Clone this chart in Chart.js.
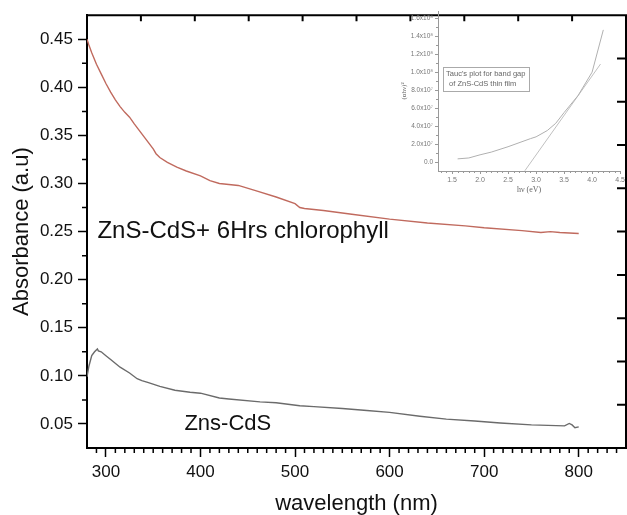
<!DOCTYPE html>
<html>
<head>
<meta charset="utf-8">
<script src="https://cdn.jsdelivr.net/npm/chart.js@4.4.1/dist/chart.umd.min.js"></script>
<style>
  body { margin: 0; background: #fff; }
  #wrap { position: relative; width: 627px; height: 515px; }
  #main { position: absolute; left: 0; top: 0; }
  #inset { position: absolute; left: 400px; top: 5px; }
</style>
</head>
<body>
<div id="wrap">
  <canvas id="main" width="627" height="515"></canvas>
  <canvas id="inset" width="227" height="195"></canvas>
</div>
<script>
// ================= MAIN DATA =================
const chloroWl = [280, 282, 285, 290, 295, 300, 305, 310, 315, 320, 325, 330, 340, 350, 353, 357, 365, 375, 385, 400,
                  410, 420, 430, 440, 460, 480, 500, 505, 510, 530, 560, 600, 640, 680, 700, 740, 760, 770, 780, 800];
const chloroAbs = [0.450, 0.444, 0.436, 0.424, 0.414, 0.404, 0.395, 0.387, 0.380, 0.374, 0.369, 0.362, 0.349, 0.336, 0.331, 0.327, 0.322, 0.317, 0.313, 0.308,
                   0.303, 0.300, 0.299, 0.298, 0.292, 0.286, 0.279, 0.275, 0.274, 0.272, 0.268, 0.263, 0.259, 0.256, 0.254, 0.251, 0.249, 0.250, 0.249, 0.248];

const plainWl = [280, 282, 285, 288, 291, 292, 295, 300, 305, 315, 325, 333, 338, 345, 357, 373, 389, 400, 420, 430,
                 463, 480, 505, 520, 550, 576, 600, 632, 660, 690, 717, 750, 785, 790, 793, 796, 800];
const plainAbs = [0.099, 0.110, 0.121, 0.125, 0.128, 0.126, 0.125, 0.121, 0.117, 0.109, 0.103, 0.097, 0.095, 0.093, 0.089, 0.085, 0.083, 0.082, 0.077, 0.076,
                  0.073, 0.072, 0.069, 0.068, 0.066, 0.064, 0.062, 0.058, 0.055, 0.053, 0.051, 0.049, 0.048, 0.0505, 0.049, 0.046, 0.047];

const seriesLabels = ["ZnS-CdS+ 6Hrs chlorophyll", "Zns-CdS"];
const labelAnchors = [[291, 0.25], [383, 0.05]]; // (wavelength, absorbance) where each text starts
const labelSizes = [24, 22];
const xTickValues = [300, 400, 500, 600, 700, 800];
const yTickValues = [0.05, 0.10, 0.15, 0.20, 0.25, 0.30, 0.35, 0.40, 0.45];

// ================= INSET DATA (Tauc plot) =================
const taucEnergy = [1.6, 1.8, 2.0, 2.2, 2.5, 2.9, 3.0, 3.2, 3.35, 3.5, 3.75, 4.0, 4.2];
const taucValue = [3.5e6, 4.5e6, 8e6, 1.1e7, 1.7e7, 2.6e7, 2.8e7, 3.5e7, 4.3e7, 5.5e7, 7.4e7, 1.0e8, 1.47e8];
const fitEnergy = [2.8, 4.15];
const fitValue = [-0.97e7, 1.09e8];
const insetXTicks = [1.5, 2.0, 2.5, 3.0, 3.5, 4.0, 4.5];
const insetYTicks = [0, 2e7, 4e7, 6e7, 8e7, 1.0e8, 1.2e8, 1.4e8, 1.6e8];
const insetYTickLabels = ["0.0", "2.0x10⁷", "4.0x10⁷", "6.0x10⁷", "8.0x10⁷", "1.0x10⁸", "1.2x10⁸", "1.4x10⁸", "1.6x10⁸"];
const insetNote = ["Tauc's plot for band gap", "of ZnS-CdS thin film"];

Chart.defaults.font.family = "'Liberation Sans', Arial, sans-serif";

const toPoints = (xs, ys) => xs.map((x, i) => ({ x: x, y: ys[i] }));

// ================= MAIN CHART EXTRAS =================
const mainFrame = {
    id: 'mainFrame',
    afterDraw(chart) {
        const { ctx, chartArea: a, scales: { x, y } } = chart;
        ctx.save();
        ctx.strokeStyle = '#000';

        // top + right frame
        ctx.lineWidth = 2;
        ctx.beginPath();
        ctx.moveTo(a.left, a.top);
        ctx.lineTo(a.right, a.top);
        ctx.lineTo(a.right, a.bottom);
        ctx.stroke();

        // minor ticks (10 nm / 0.025)
        ctx.lineWidth = 1.5;
        ctx.beginPath();
        for (let v = 290; v < 850; v += 10) {
            if (v % 100 === 0) continue;
            const px = x.getPixelForValue(v);
            ctx.moveTo(px, a.bottom);
            ctx.lineTo(px, a.bottom + 5);
        }
        for (let k = 3; k < 19; k += 2) {
            const py = y.getPixelForValue(k * 0.025);
            ctx.moveTo(a.left, py);
            ctx.lineTo(a.left - 5, py);
        }
        ctx.stroke();

        // inward ticks on top and right frame
        ctx.lineWidth = 2;
        ctx.beginPath();
        for (let k = 1; k < 10; k++) {
            const px = a.left + (a.right - a.left) * k / 10;
            ctx.moveTo(px, a.top);
            ctx.lineTo(px, a.top + 6);
            const py = a.top + (a.bottom - a.top) * k / 10;
            ctx.moveTo(a.right, py);
            ctx.lineTo(a.right - 9, py);
        }
        ctx.stroke();

        // curve labels
        ctx.fillStyle = '#111';
        ctx.textBaseline = 'middle';
        seriesLabels.forEach((txt, i) => {
            ctx.font = labelSizes[i] + "px 'Liberation Sans', Arial, sans-serif";
            ctx.fillText(txt, x.getPixelForValue(labelAnchors[i][0]), y.getPixelForValue(labelAnchors[i][1]));
        });
        ctx.restore();
    }
};

new Chart(document.getElementById('main'), {
    type: 'scatter',
    data: {
        datasets: [
            { label: seriesLabels[0], data: toPoints(chloroWl, chloroAbs), showLine: true,
              borderColor: 'rgb(192,106,94)', borderWidth: 1.4, pointRadius: 0 },
            { label: seriesLabels[1], data: toPoints(plainWl, plainAbs), showLine: true,
              borderColor: '#6b6b6b', borderWidth: 1.4, pointRadius: 0 }
        ]
    },
    options: {
        responsive: false,
        animation: false,
        layout: { padding: { top: 13, right: 1, left: 0, bottom: 0 } },
        plugins: { legend: { display: false }, tooltip: { enabled: false } },
        scales: {
            x: {
                type: 'linear', min: 280, max: 850,
                afterFit: (s) => { s.height = 67; },
                afterBuildTicks: (s) => { s.ticks = xTickValues.map(v => ({ value: v })); },
                ticks: { color: '#111', font: { size: 17 }, padding: 5, maxRotation: 0 },
                grid: { drawOnChartArea: false, tickLength: 9, tickColor: '#000', tickWidth: 1.5 },
                border: { color: '#000', width: 2 },
                title: { display: true, text: 'wavelength (nm)', color: '#111',
                         font: { size: 22, lineHeight: 1 }, padding: 0 }
            },
            y: {
                min: 0.025, max: 0.475,
                afterFit: (s) => { s.width = 87; },
                afterBuildTicks: (s) => { s.ticks = yTickValues.map(v => ({ value: v })); },
                ticks: { color: '#111', font: { size: 17 }, padding: 5, callback: (v) => v.toFixed(2) },
                grid: { drawOnChartArea: false, tickLength: 9, tickColor: '#000', tickWidth: 1.5 },
                border: { color: '#000', width: 2 },
                title: { display: true, text: 'Absorbance (a.u)', color: '#111',
                         font: { size: 22, lineHeight: 1 }, padding: { top: 11, bottom: 0 } }
            }
        }
    },
    plugins: [mainFrame]
});

// ================= INSET CHART =================
const insetExtras = {
    id: 'insetExtras',
    afterDraw(chart) {
        const { ctx, chartArea: a, scales: { x, y } } = chart;
        ctx.save();
        ctx.strokeStyle = '#999';
        ctx.lineWidth = 1;
        ctx.beginPath();
        for (let k = 13; k < 45; k++) {
            if (k % 5 === 0) continue;
            const px = Math.round(x.getPixelForValue(k / 10)) + 0.5;
            ctx.moveTo(px, a.bottom);
            ctx.lineTo(px, a.bottom + 2);
        }
        for (let k = 1; k < 17; k += 2) {
            const py = Math.round(y.getPixelForValue(k * 1e7)) + 0.5;
            ctx.moveTo(a.left, py);
            ctx.lineTo(a.left - 2, py);
        }
        ctx.stroke();

        // note box
        const bx = x.getPixelForValue(1.34), by = y.getPixelForValue(1.056e8);
        const bx2 = x.getPixelForValue(2.88), by2 = y.getPixelForValue(7.87e7);
        ctx.strokeStyle = '#aaa';
        ctx.strokeRect(Math.round(bx) + 0.5, Math.round(by) + 0.5, Math.round(bx2 - bx), Math.round(by2 - by));
        ctx.fillStyle = '#666';
        ctx.font = "7.5px 'Liberation Sans', Arial, sans-serif";
        ctx.textBaseline = 'middle';
        ctx.fillText(insetNote[0], bx + 3, by + 7);
        ctx.fillText(insetNote[1], bx + 6, by + 17);
        ctx.restore();
    }
};

new Chart(document.getElementById('inset'), {
    type: 'scatter',
    data: {
        datasets: [
            { data: toPoints(taucEnergy, taucValue), showLine: true, borderColor: '#b0b0b0', borderWidth: 1, pointRadius: 0 },
            { data: toPoints(fitEnergy, fitValue), showLine: true, borderColor: '#c0c0c0', borderWidth: 1, pointRadius: 0 }
        ]
    },
    options: {
        responsive: false,
        animation: false,
        layout: { padding: { top: 6, right: 4, left: 0, bottom: 0 } },
        plugins: { legend: { display: false }, tooltip: { enabled: false } },
        scales: {
            x: {
                type: 'linear', min: 1.25, max: 4.5,
                afterFit: (s) => { s.height = 29; },
                afterBuildTicks: (s) => { s.ticks = insetXTicks.map(v => ({ value: v })); },
                ticks: { color: '#777', font: { size: 7 }, padding: 2, maxRotation: 0, callback: (v) => v.toFixed(1) },
                grid: { drawOnChartArea: false, tickLength: 3, tickColor: '#999' },
                border: { color: '#999', width: 1 },
                title: { display: true, text: 'hν (eV)', color: '#666',
                         font: { family: "'Liberation Serif', serif", size: 8, lineHeight: 1 }, padding: { top: 0, bottom: 6 } }
            },
            y: {
                min: -1e7, max: 1.68e8,
                afterFit: (s) => { s.width = 38; },
                afterBuildTicks: (s) => { s.ticks = insetYTicks.map(v => ({ value: v })); },
                ticks: { color: '#777', font: { size: 6.5 }, padding: 2, callback: (v, i) => insetYTickLabels[i] },
                grid: { drawOnChartArea: false, tickLength: 3, tickColor: '#999' },
                border: { color: '#999', width: 1 },
                title: { display: true, text: '(αhν)²', color: '#666',
                         font: { family: "'Liberation Serif', serif", size: 7, lineHeight: 1 }, padding: { top: 1, bottom: 0 } }
            }
        }
    },
    plugins: [insetExtras]
});
</script>
</body>
</html>
